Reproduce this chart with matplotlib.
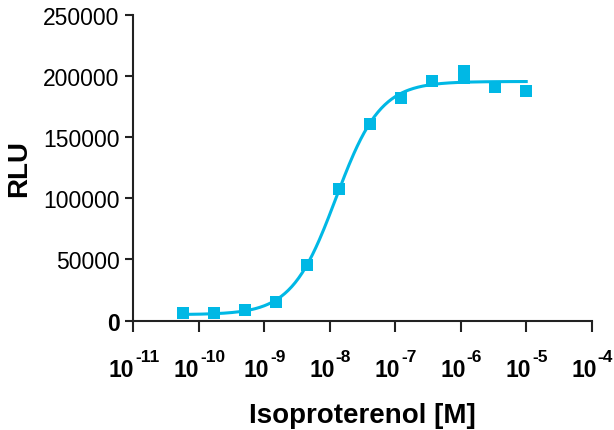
#!/usr/bin/env python3
"""
Dose-response plot: Isoproterenol concentration vs luminescence (RLU)
with a four-parameter logistic fit drawn through the points.
"""

import numpy as np
import matplotlib
matplotlib.use('Agg')
import matplotlib.pyplot as plt
import matplotlib.transforms as mtransforms

# concentrations (M), 1:3 dilution series from 10 uM; the top-plateau dose
# at ~1.1 uM shows two replicates
conc = [5.65e-11, 1.69e-10, 5.08e-10, 1.52e-9, 4.57e-9, 1.37e-8,
        4.12e-8, 1.23e-7, 3.70e-7, 1.11e-6, 1.11e-6, 3.33e-6, 1.0e-5]
rlu = [5900, 6100, 8300, 14900, 45800, 107600,
       160700, 181800, 196200, 204500, 198800, 191300, 187500]

x_tick_exps = [-11, -10, -9, -8, -7, -6, -5, -4]
y_ticks = [0, 50000, 100000, 150000, 200000, 250000]

COLOR = '#00B8E5'
AXIS_COLOR = '#222222'


def four_pl(logx, bottom, top, logec50, hill):
    return bottom + (top - bottom) / (1 + 10 ** ((logec50 - logx) * hill))


def fit_four_pl(logx, y):
    """Grid search on logEC50/hill, linear least squares for bottom/top"""
    best = None
    for logec50 in np.arange(-9.5, -7.0, 0.005):
        for hill in np.arange(0.5, 2.0, 0.01):
            f = 1 / (1 + 10 ** ((logec50 - logx) * hill))
            A = np.column_stack((1 - f, f))
            coef = np.linalg.lstsq(A, y, rcond=None)[0]
            sse = np.sum((A @ coef - y) ** 2)
            if best is None or sse < best[0]:
                best = (sse, coef[0], coef[1], logec50, hill)
    return best[1:]


def draw_power_labels(fig, ax, exps, size=16.5):
    """Bold '10' with a raised exponent, the pair centred under each tick"""
    renderer = fig.canvas.get_renderer()
    trans = mtransforms.blended_transform_factory(ax.transData, ax.transAxes)
    for e in exps:
        x = 10.0 ** e
        base = ax.text(x, 0, '10', transform=trans, fontsize=size,
                       fontweight='bold', ha='left', va='baseline', clip_on=False)
        sup = ax.text(x, 0, '-%d' % abs(e), transform=trans, fontsize=size * 0.76,
                      fontweight='bold', ha='left', va='baseline', clip_on=False)
        wb = base.get_window_extent(renderer).width
        ws = sup.get_window_extent(renderer).width
        left = -(wb + ws) / 2
        base.set_transform(trans + mtransforms.Affine2D().translate(left, -55))
        sup.set_transform(trans + mtransforms.Affine2D().translate(left + wb + 1, -40))


def main():
    plt.rcParams['font.family'] = ['Liberation Sans', 'DejaVu Sans']

    logx = np.log10(np.array(conc))
    y = np.array(rlu, dtype=float)
    bottom, top, logec50, hill = fit_four_pl(logx, y)

    fig = plt.figure(figsize=(6.14, 4.31), dpi=100)
    ax = fig.add_axes([0.2171, 0.2540, 0.7466, 0.7089])

    xs = np.linspace(logx.min(), logx.max(), 300)
    ax.plot(10 ** xs, four_pl(xs, bottom, top, logec50, hill),
            color=COLOR, lw=2.2, zorder=2)
    ax.plot(conc, rlu, 's', color=COLOR, markersize=9.3, mew=0, zorder=3)

    ax.set_xscale('log')
    ax.set_xlim(10.0 ** x_tick_exps[0], 10.0 ** x_tick_exps[-1])
    ax.set_ylim(y_ticks[0], y_ticks[-1])

    ax.set_xticks([10.0 ** e for e in x_tick_exps])
    ax.set_xticklabels([''] * len(x_tick_exps))
    ax.xaxis.set_minor_locator(matplotlib.ticker.NullLocator())
    ax.set_yticks(y_ticks)
    ax.set_yticklabels([str(v) for v in y_ticks])

    for side in ('top', 'right'):
        ax.spines[side].set_visible(False)
    for side in ('left', 'bottom'):
        ax.spines[side].set_linewidth(1.5)
        ax.spines[side].set_color(AXIS_COLOR)

    ax.tick_params(axis='x', length=8, width=1.5, color=AXIS_COLOR)
    ax.tick_params(axis='y', length=6, width=1.5, color=AXIS_COLOR,
                   labelsize=16.5, pad=4)
    ax.get_yticklabels()[0].set_fontweight('bold')

    draw_power_labels(fig, ax, x_tick_exps)

    ax.set_xlabel('Isoproterenol [M]', fontsize=20, fontweight='bold')
    ax.xaxis.set_label_coords(0.5, -0.268)
    ax.set_ylabel('RLU', fontsize=20, fontweight='bold', labelpad=8)

    fig.savefig('out.png', dpi=100)


if __name__ == "__main__":
    main()
